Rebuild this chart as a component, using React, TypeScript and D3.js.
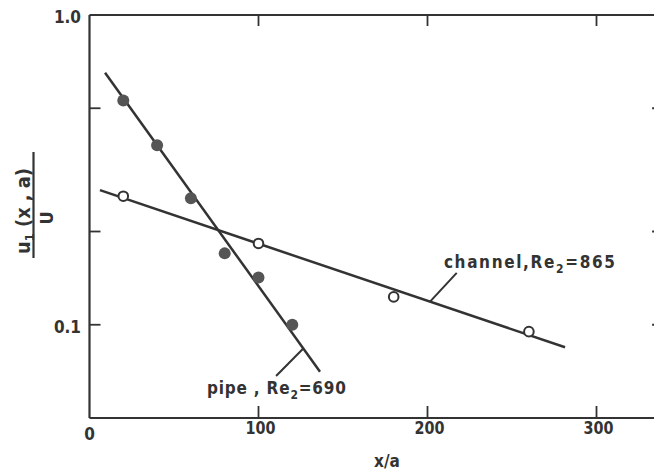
import React from "react";
import * as d3 from "d3";

const W = 654;
const H = 470;

// Measured decay of the centre-line perturbation amplitude
const pipeX = [20, 40, 60, 80, 100, 120];
const pipeY = [0.53, 0.38, 0.256, 0.17, 0.142, 0.1];
const channelX = [20, 100, 180, 260];
const channelY = [0.26, 0.183, 0.123, 0.095];

// Fitted exponential decay lines (straight on the log axis)
const pipeFitX = [9.2, 136.4];
const pipeFitY = [0.651, 0.0705];
const channelFitX = [6.2, 281.4];
const channelFitY = [0.272, 0.0846];

const xTicks = [100, 200, 300];
const xTickLabels = ["100", "200", "300"];
const yTicks = [1.0, 0.5, 0.2, 0.1];
const yTickLabels = ["1.0", "", "", "0.1"];

const FONT = "'DejaVu Sans Condensed', 'DejaVu Sans', sans-serif";
const INK = "#333";

export default function App() {
  const x = d3.scaleLinear().domain([0, 340]).range([89.5, 664.1]);
  const y = d3.scaleLog().domain([0.05, 1]).range([418, 15]);

  const line = d3
    .line<[number, number]>()
    .x((d) => x(d[0]))
    .y((d) => y(d[1]));

  const pipeFit: [number, number][] = pipeFitX.map((v, i) => [v, pipeFitY[i]]);
  const channelFit: [number, number][] = channelFitX.map((v, i) => [v, channelFitY[i]]);

  // point on a fitted line (log-linear interpolation)
  const onFit = (fx: number[], fy: number[], xv: number): [number, number] => {
    const t = (xv - fx[0]) / (fx[1] - fx[0]);
    const ly = Math.log10(fy[0]) + t * (Math.log10(fy[1]) - Math.log10(fy[0]));
    return [xv, Math.pow(10, ly)];
  };

  const pipeAnchor = onFit(pipeFitX, pipeFitY, 126.5);
  const pipeLeaderEnd: [number, number] = [110.4, 0.0683];
  const pipeLabelAt: [number, number] = [69.5, 0.0598];

  const chanAnchor = onFit(channelFitX, channelFitY, 201.5);
  const chanLeaderEnd: [number, number] = [217.3, 0.147];
  const chanLabelAt: [number, number] = [209.7, 0.1525];

  const x0 = x(0);
  const x1 = x(340);
  const yTop = y(1);
  const yBot = y(0.05);

  return (
    <svg
      width={W}
      height={H}
      viewBox={`0 0 ${W} ${H}`}
      style={{ position: "absolute", left: 0, top: 0, background: "#fff" }}
      fontFamily={FONT}
      fontWeight="bold"
    >
      <rect x={0} y={0} width={W} height={H} fill="#fff" />

      {/* frame */}
      <g stroke={INK} strokeWidth={2.2} fill="none">
        <line x1={x0} y1={yTop} x2={x1} y2={yTop} />
        <line x1={x0} y1={yBot} x2={x1} y2={yBot} />
        <line x1={x0} y1={yTop} x2={x0} y2={yBot} />
        <line x1={x1} y1={yTop} x2={x1} y2={yBot} />
      </g>

      {/* ticks, pointing inward on all four sides */}
      <g stroke={INK} strokeWidth={1.8}>
        {xTicks.map((t) => (
          <g key={`xt${t}`}>
            <line x1={x(t)} y1={yBot} x2={x(t)} y2={yBot - 12} />
            <line x1={x(t)} y1={yTop} x2={x(t)} y2={yTop + 11} />
          </g>
        ))}
        {yTicks.slice(1).map((t) => (
          <g key={`yt${t}`}>
            <line x1={x0} y1={y(t)} x2={x0 + 11} y2={y(t)} />
            <line x1={x1} y1={y(t)} x2={x1 - 12} y2={y(t)} />
          </g>
        ))}
      </g>

      {/* tick labels */}
      <g fill={INK} fontSize={17}>
        <text x={x(0)} y={440} textAnchor="middle">0</text>
        {xTicks.map((t, i) => (
          <text key={`xl${t}`} x={x(t) + 2} y={434} textAnchor="middle" textLength={30} lengthAdjust="spacingAndGlyphs">
            {xTickLabels[i]}
          </text>
        ))}
        {yTicks.map((t, i) =>
          yTickLabels[i] ? (
            <text key={`yl${t}`} x={81} y={y(t) + 8} textAnchor="end">
              {yTickLabels[i]}
            </text>
          ) : null
        )}
      </g>

      {/* axis titles */}
      <text x={387} y={467} textAnchor="middle" fontSize={17} fill={INK}>
        x/a
      </text>
      <g fill={INK} fontSize={20}>
        <text transform="translate(30,211) rotate(-90)" textAnchor="middle" textLength={86} lengthAdjust="spacingAndGlyphs">
          <tspan>u</tspan>
          <tspan fontSize={13} dy={4}>1</tspan>
          <tspan dy={-4}> (x , a)</tspan>
        </text>
        <line x1={33.5} y1={152} x2={33.5} y2={258} stroke={INK} strokeWidth={2.2} />
        <text transform="translate(53,218) rotate(-90)" textAnchor="middle" fontSize={18}>
          U
        </text>
      </g>

      {/* fitted lines */}
      <path d={line(pipeFit) ?? ""} stroke={INK} strokeWidth={2.5} fill="none" />
      <path d={line(channelFit) ?? ""} stroke={INK} strokeWidth={2.5} fill="none" />

      {/* leaders */}
      <g stroke={INK} strokeWidth={2}>
        <line x1={x(pipeAnchor[0])} y1={y(pipeAnchor[1])} x2={x(pipeLeaderEnd[0])} y2={y(pipeLeaderEnd[1])} />
        <line x1={x(chanAnchor[0])} y1={y(chanAnchor[1])} x2={x(chanLeaderEnd[0])} y2={y(chanLeaderEnd[1])} />
      </g>

      {/* pipe data: filled circles */}
      {pipeX.map((v, i) => (
        <circle key={`p${i}`} cx={x(v)} cy={y(pipeY[i])} r={6} fill="#555" />
      ))}
      {/* channel data: open circles */}
      {channelX.map((v, i) => (
        <circle
          key={`c${i}`}
          cx={x(v)}
          cy={y(channelY[i])}
          r={4.8}
          fill="#fff"
          stroke={INK}
          strokeWidth={2}
        />
      ))}

      {/* series labels */}
      <g fill={INK} fontSize={17}>
        <text x={x(pipeLabelAt[0])} y={y(pipeLabelAt[1])} textLength={139} lengthAdjust="spacing">
          <tspan>pipe , Re</tspan>
          <tspan fontSize={12} dy={5}>2</tspan>
          <tspan dy={-5}>=690</tspan>
        </text>
        <text x={x(chanLabelAt[0])} y={y(chanLabelAt[1])} textLength={171} lengthAdjust="spacing">
          <tspan>channel,Re</tspan>
          <tspan fontSize={12} dy={5}>2</tspan>
          <tspan dy={-5}>=865</tspan>
        </text>
      </g>
    </svg>
  );
}
